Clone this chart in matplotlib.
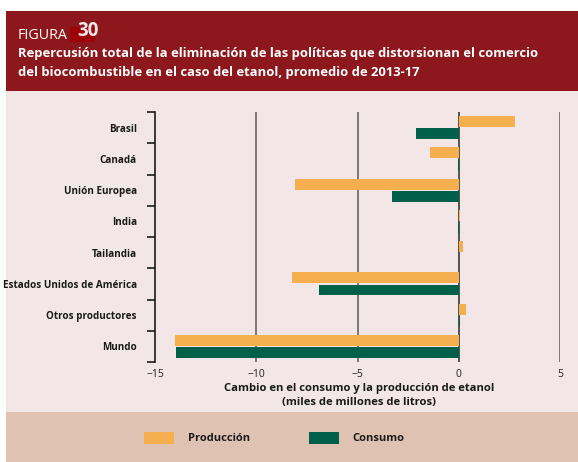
import matplotlib
matplotlib.use("Agg")
import matplotlib.pyplot as plt
from matplotlib.patches import Rectangle
import numpy as np

categories = ["Brasil", "Canadá", "Unión Europea", "India", "Tailandia",
              "Estados Unidos de América", "Otros productores", "Mundo"]
produccion = [2.8, -1.4, -8.1, 0.04, 0.23, -8.25, 0.35, -14.0]
consumo = [-2.1, -0.04, -3.3, -0.03, 0.03, -6.9, 0.04, -13.95]
xticks = [-15, -10, -5, 0, 5]
xticklabels = ["\u221215", "\u221210", "\u22125", "0", "5"]

FONT = ["Open Sans", "DejaVu Sans"]
plt.rcParams["font.family"] = FONT

W, H = 578, 462
fig = plt.figure(figsize=(W / 100, H / 100), dpi=100)
fig.patch.set_facecolor("white")

def fx(px):
    return px / W

def fy(py):
    return 1 - py / H

RED = "#8C171C"
PINK = "#F2E6E6"
TAN = "#E0C2B3"
ORANGE = "#F6AF4F"
GREEN = "#00604A"

# background panels
fig.patches.append(Rectangle((fx(6), fy(90.7)), 1 - fx(6), fy(11) - fy(90.7),
                             transform=fig.transFigure, facecolor=RED, edgecolor="none", zorder=-3))
fig.patches.append(Rectangle((fx(6), fy(411.7)), 1 - fx(6), fy(90.7) - fy(411.7),
                             transform=fig.transFigure, facecolor=PINK, edgecolor="none", zorder=-3))
fig.patches.append(Rectangle((fx(6), fy(462)), 1 - fx(6), fy(411.7) - fy(462),
                             transform=fig.transFigure, facecolor=TAN, edgecolor="none", zorder=-3))
# dark box behind the figure number
fig.patches.append(Rectangle((fx(70), fy(41.5)), fx(25), fy(27) - fy(41.5),
                             transform=fig.transFigure, facecolor="#9E0208", edgecolor="none", zorder=-2))

fig.text(fx(18), fy(35.5), "FIGURA", color="white", fontsize=10.3, va="center", ha="left")
fig.text(fx(77), fy(31.5), "30", color="#F2E6E6", fontsize=13.5, fontweight="bold", va="center", ha="left")
fig.text(fx(18), fy(54), "Repercusión total de la eliminación de las políticas que distorsionan el comercio",
         color="white", fontsize=9.4, fontweight="bold", va="center", ha="left")
fig.text(fx(18), fy(72.7), "del biocombustible en el caso del etanol, promedio de 2013-17",
         color="white", fontsize=9.4, fontweight="bold", va="center", ha="left")

ax = fig.add_axes([fx(155), fy(362), fx(560) - fx(155), fy(112) - fy(362)])
ax.set_facecolor("none")
ax.set_zorder(2)

y = np.arange(len(categories))
bh = 0.35
off = 0.195
ax.barh(y - off, produccion, height=bh, color=ORANGE, label="Producción", zorder=3)
ax.barh(y + off, consumo, height=bh, color=GREEN, label="Consumo", zorder=3)

ax.set_xlim(-15, 5)
ax.set_ylim(len(categories) - 0.5, -0.5)

for xv in [-10, -5, 5]:
    ax.axvline(xv, color="#5a5a5a", lw=1.1, zorder=1)
ax.axvline(0, color="#2a2a2a", lw=1.1, zorder=2)

ax.set_xticks(xticks)
ax.set_xticklabels(xticklabels, fontsize=7.5, color="#222222")
ax.tick_params(axis="x", length=0, pad=5)

ax.set_yticks(y)
ax.set_yticklabels(categories, fontsize=7.1, fontweight="bold", color="#1a1a1a")
ax.tick_params(axis="y", which="major", length=0, pad=13)
ax.set_yticks(np.arange(-0.5, len(categories), 1), minor=True)
ax.tick_params(axis="y", which="minor", length=6, width=1.2, color="#1a1a1a", direction="out")

for s in ["top", "right", "bottom"]:
    ax.spines[s].set_visible(False)
ax.spines["left"].set_color("#1a1a1a")
ax.spines["left"].set_linewidth(1.2)

fig.text(fx(359), fy(388), "Cambio en el consumo y la producción de etanol",
         fontsize=8.1, fontweight="bold", color="#1a1a1a", ha="center", va="center")
fig.text(fx(359), fy(402), "(miles de millones de litros)",
         fontsize=8.1, fontweight="bold", color="#1a1a1a", ha="center", va="center")

handles, labels = ax.get_legend_handles_labels()
leg = fig.legend(handles, labels, loc="center left", bbox_to_anchor=(fx(140), fy(438)),
                 ncol=2, frameon=False, fontsize=8, handlelength=2.7, handleheight=1.35,
                 handletextpad=1.2, columnspacing=5.3, borderaxespad=0)
for t in leg.get_texts():
    t.set_fontweight("bold")
    t.set_color("#1a1a1a")

fig.savefig("out.png", dpi=100, facecolor=fig.get_facecolor())
